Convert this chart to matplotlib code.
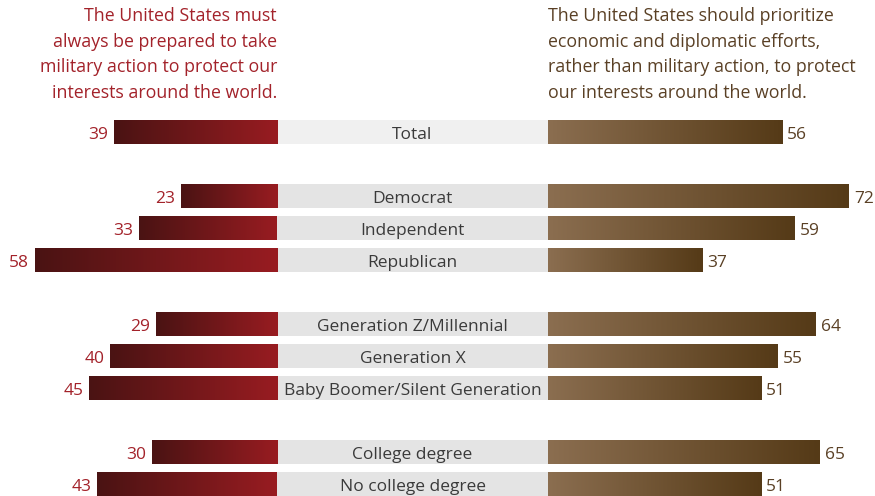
import matplotlib.pyplot as plt
import numpy as np
from matplotlib.colors import LinearSegmentedColormap

plt.rcParams["font.family"] = ["Open Sans", "DejaVu Sans"]

groups = ["Total", "Democrat", "Independent", "Republican",
          "Generation Z/Millennial", "Generation X", "Baby Boomer/Silent Generation",
          "College degree", "No college degree"]
rows = [0, 2, 3, 4, 6, 7, 8, 10, 11]
military = [39, 23, 33, 58, 29, 40, 45, 30, 43]
diplomacy = [56, 72, 59, 37, 64, 55, 51, 65, 51]

left_title = ("The United States must\nalways be prepared to take\n"
              "military action to protect our\ninterests around the world.")
right_title = ("The United States should prioritize\neconomic and diplomatic efforts,\n"
               "rather than military action, to protect\nour interests around the world.")

RED_TXT = "#a3222a"
BROWN_TXT = "#5a4025"
red_cmap = LinearSegmentedColormap.from_list("red", ["#4a1313", "#981c21"])
brown_cmap = LinearSegmentedColormap.from_list("brown", ["#8b6e50", "#553a17"])

PX = 4.18          # pixels per percentage point
GAP = 271 / PX     # width of the centre label column
BAR_H = 0.78
BOX_H = 0.74
TXT_DY = 0.08      # nudge text down so it sits centred in the bar

fig = plt.figure(figsize=(8.75, 4.96), dpi=100)
ax = fig.add_axes([0, 0, 1, 1])
ax.axis("off")

grad = np.linspace(0, 1, 256).reshape(1, -1)


def gradient_bar(x0, width, y, cmap):
    patch = ax.barh(y, width, left=x0, height=BAR_H, color="none", lw=0)[0]
    lo, hi = min(x0, x0 + width), max(x0, x0 + width)
    im = ax.imshow(grad, cmap=cmap, aspect="auto", interpolation="bicubic",
                   extent=(lo, hi, y + BAR_H / 2, y - BAR_H / 2), zorder=2)
    im.set_clip_path(patch)


for name, r, m, d in zip(groups, rows, military, diplomacy):
    box = "#f0f0f0" if name == "Total" else "#e4e4e4"
    ax.barh(r, GAP, left=0, height=BOX_H, color=box, lw=0, zorder=1)
    ax.text(GAP / 2, r + TXT_DY, name, ha="center", va="center", fontsize=12.5,
            color="#3a3a3a", zorder=3)

    gradient_bar(-m, m, r, red_cmap)
    ax.text(-m - 1.3, r + TXT_DY, f"{m}", ha="right", va="center",
            fontsize=12.5, color=RED_TXT)

    gradient_bar(GAP, d, r, brown_cmap)
    ax.text(GAP + d + 1.2, r + TXT_DY, f"{d}", ha="left", va="center",
            fontsize=12.5, color=BROWN_TXT)

ax.set_xlim(-277 / PX, (875 - 277) / PX)
ax.set_ylim((496 - 132) / 32, -132 / 32)

fig.text(277 / 875, 1 - 7 / 496, left_title, ha="right", va="top",
         fontsize=12.8, color=RED_TXT, linespacing=1.55)
fig.text(548 / 875, 1 - 7 / 496, right_title, ha="left", va="top",
         fontsize=12.8, color=BROWN_TXT, linespacing=1.55)

fig.savefig("out.png", dpi=100)
